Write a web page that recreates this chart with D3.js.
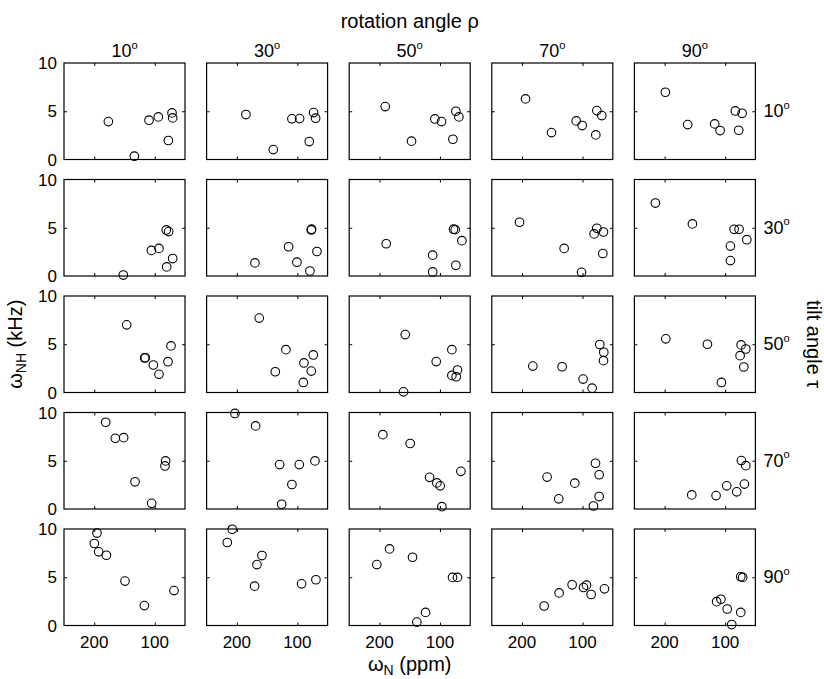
<!DOCTYPE html>
<html>
<head>
<meta charset="utf-8">
<script src="https://cdn.jsdelivr.net/npm/d3@7/dist/d3.min.js"></script>
<style>
  html, body { margin: 0; padding: 0; background: #fff; }
  svg { display: block; }
  text { font-family: "Liberation Sans", Arial, sans-serif; fill: #000; }
</style>
</head>
<body>
<svg id="chart" width="824" height="679"></svg>
<script>
// ---- data ----
const rotationAngles = [10, 30, 50, 70, 90];   // columns (rho)
const tiltAngles = [10, 30, 50, 70, 90];       // rows (tau)
const xTicks = [200, 100];
const yTicks = [0, 5, 10];

// omega_N (ppm) per tilt row, one list per rotation column
const wN_tilt10 = [
  [176.7,133.7,109.5,94.1,71.5,70.4,77.5],
  [185,139.8,109,96.3,73.1,69.8,80.3],
  [190.5,147,108.4,97.4,73.7,68.7,78.6],
  [194.3,151.3,110.5,100.6,76.4,68.2,78.1],
  [198.8,161.9,117.3,108.4,83.1,72,77.6]
];
const wNH_tilt10 = [
  [3.93,0.34,4.07,4.41,4.83,4.31,1.97],
  [4.66,1.03,4.21,4.24,4.86,4.28,1.86],
  [5.48,1.9,4.2,3.93,5.0,4.41,2.1],
  [6.28,2.79,4.0,3.52,5.07,4.55,2.55],
  [6.97,3.62,3.69,3.0,5.03,4.79,3.03]
];
const wN_tilt30 = [
  [152,105.6,93,81,77,70.4,80.3],
  [170.1,114.5,100.7,77,76.5,67.6,79.2],
  [188.8,112,112,77.6,74.8,63.7,73.7],
  [204.2,130.4,101.7,76.4,80.9,65.4,66.5],
  [215.3,154.1,85.2,77,64.2,91.3,91.3]
];
const wNH_tilt30 = [
  [0.1,2.65,2.86,4.77,4.6,1.81,0.94],
  [1.36,3.03,1.43,4.77,4.85,2.54,0.52],
  [3.34,2.16,0.42,4.85,4.8,3.66,1.11],
  [5.57,2.86,0.38,4.95,4.36,4.56,2.33],
  [7.56,5.4,4.84,4.84,3.76,3.1,1.6]
];
const wN_tilt50 = [
  [146.4,116.7,115.6,102.3,93,78.1,73.1],
  [163,118.9,136.5,89.1,73.7,77,90.2],
  [157.4,106.2,160.2,80.3,71,80.3,73.1],
  [182.2,133.8,99.1,84.2,71.5,64.9,65.4],
  [198.1,129.3,106.2,73.6,65.9,75.3,69.2]
];
const wNH_tilt50 = [
  [7.01,3.58,3.6,2.85,1.88,3.19,4.83],
  [7.71,4.44,2.15,3.06,3.89,2.22,1.04],
  [6.0,3.2,0.07,4.44,2.33,1.77,1.63],
  [2.74,2.67,1.39,0.45,4.97,4.17,3.3],
  [5.56,5.0,1.04,4.93,4.51,3.82,2.64]
];
const wN_tilt70 = [
  [181.1,165.2,151.4,132.6,105.1,82,83.1],
  [203.2,169,129.3,96.8,70.9,109,126],
  [194.4,149.2,117.2,105.1,99.6,96.8,65.4],
  [158.6,139.3,112.8,78.6,72.6,72.6,82],
  [155.2,115,97.4,80.9,73.2,65.9,68.2]
];
const wNH_tilt70 = [
  [8.99,7.32,7.39,2.82,0.59,4.98,4.46],
  [9.9,8.61,4.6,4.6,4.98,2.54,0.49],
  [7.7,6.79,3.28,2.7,2.4,0.24,3.9],
  [3.31,1.05,2.68,4.74,3.55,1.29,0.31],
  [1.46,1.39,2.4,1.78,5.02,4.49,2.58]
];
const wN_tilt90 = [
  [195.5,199.9,192.7,180,149.2,117.2,68.2],
  [207.6,215.8,158.5,166.8,170.7,93,69.3],
  [204.3,183.3,145.3,123.8,138.2,79.2,71],
  [163.5,138.7,117.2,98.4,93.5,85.8,63.8],
  [74.2,71,114.1,107,96.6,74.2,89.1]
];
const wNH_tilt90 = [
  [9.58,8.5,7.63,7.28,4.6,2.06,3.62],
  [9.97,8.6,7.25,6.31,4.08,4.32,4.74],
  [6.31,7.94,7.07,1.36,0.35,4.98,4.98],
  [2.02,3.38,4.22,3.94,4.18,3.21,3.8],
  [5.05,4.98,2.47,2.72,1.71,1.36,0.1]
];

const wN_rows = [wN_tilt10, wN_tilt30, wN_tilt50, wN_tilt70, wN_tilt90];
const wNH_rows = [wNH_tilt10, wNH_tilt30, wNH_tilt50, wNH_tilt70, wNH_tilt90];

// ---- layout ----
const svg = d3.select("#chart");
const panelW = 121, panelH = 96.5;
const left0 = 64, colPitch = 142.6;
const top0 = 63, rowPitch = 116.5;
const tickLen = 3;

const x = d3.scaleLinear().domain([250, 50]).range([0, panelW]);
const y = d3.scaleLinear().domain([0, 10]).range([panelH, 0]);

tiltAngles.forEach((tilt, r) => {
  rotationAngles.forEach((rot, c) => {
    const g = svg.append("g")
      .attr("transform", `translate(${left0 + c * colPitch},${top0 + r * rowPitch})`);

    // inward ticks on all four sides
    const axB = d3.axisBottom(x).tickValues(xTicks).tickSize(-tickLen).tickFormat("");
    const axT = d3.axisTop(x).tickValues(xTicks).tickSize(-tickLen).tickFormat("");
    const axL = d3.axisLeft(y).tickValues([5]).tickSize(-tickLen).tickFormat("");
    const axR = d3.axisRight(y).tickValues([5]).tickSize(-tickLen).tickFormat("");
    [[axB, `translate(0,${panelH})`], [axT, "translate(0,0)"], [axL, "translate(0,0)"], [axR, `translate(${panelW},0)`]]
      .forEach(([ax, tr]) => {
        const a = g.append("g").attr("transform", tr).call(ax);
        a.select(".domain").remove();
        a.selectAll("line").attr("stroke", "#000").attr("stroke-width", 1);
      });

    g.append("rect")
      .attr("x", 0).attr("y", 0).attr("width", panelW).attr("height", panelH)
      .attr("fill", "none").attr("stroke", "#000").attr("stroke-width", 1.2);

    // y tick labels on first column
    if (c === 0) {
      g.selectAll("text.yt").data(yTicks).enter().append("text")
        .attr("x", -7).attr("y", d => y(d)).attr("dy", "0.36em")
        .attr("text-anchor", "end").attr("font-size", 17)
        .text(d => d);
    }
    // x tick labels on last row
    if (r === tiltAngles.length - 1) {
      g.selectAll("text.xt").data(xTicks).enter().append("text")
        .attr("x", d => x(d)).attr("y", panelH + 22)
        .attr("text-anchor", "middle").attr("font-size", 17)
        .text(d => d);
    }

    const pts = wN_rows[r][c].map((v, i) => [v, wNH_rows[r][c][i]]);
    g.selectAll("circle").data(pts).enter().append("circle")
      .attr("cx", d => x(d[0])).attr("cy", d => y(d[1])).attr("r", 4.3)
      .attr("fill", "none").attr("stroke", "#000").attr("stroke-width", 1.1);
  });
});

// degree labels
function degLabel(sel, val) {
  sel.append("tspan").text(val);
  sel.append("tspan").attr("font-size", "0.62em").attr("dy", "-0.75em").text("o");
}
rotationAngles.forEach((rot, c) => {
  const t = svg.append("text")
    .attr("x", left0 + c * colPitch + panelW / 2).attr("y", 57)
    .attr("text-anchor", "middle").attr("font-size", 18);
  degLabel(t, rot);
});
tiltAngles.forEach((tilt, r) => {
  const t = svg.append("text")
    .attr("x", left0 + 4 * colPitch + panelW + 8).attr("y", top0 + r * rowPitch + panelH / 2 + 6)
    .attr("text-anchor", "start").attr("font-size", 18);
  degLabel(t, tilt);
});

// titles
const midX = left0 + 2 * colPitch + panelW / 2;
const midY = top0 + 2 * rowPitch + panelH / 2;
svg.append("text").attr("x", midX).attr("y", 28)
  .attr("text-anchor", "middle").attr("font-size", 20).text("rotation angle ρ");

const xl = svg.append("text").attr("x", midX).attr("y", 671)
  .attr("text-anchor", "middle").attr("font-size", 20);
xl.append("tspan").text("ω");
xl.append("tspan").attr("font-size", "0.7em").attr("dy", "0.3em").text("N");
xl.append("tspan").attr("dy", "-0.21em").text(" (ppm)");

const yl = svg.append("text")
  .attr("transform", `translate(22,${midY}) rotate(-90)`)
  .attr("text-anchor", "middle").attr("font-size", 20);
yl.append("tspan").text("ω");
yl.append("tspan").attr("font-size", "0.7em").attr("dy", "0.3em").text("NH");
yl.append("tspan").attr("dy", "-0.21em").text(" (kHz)");

svg.append("text")
  .attr("transform", `translate(807,${midY}) rotate(90)`)
  .attr("text-anchor", "middle").attr("font-size", 20).text("tilt angle τ");
</script>
</body>
</html>
